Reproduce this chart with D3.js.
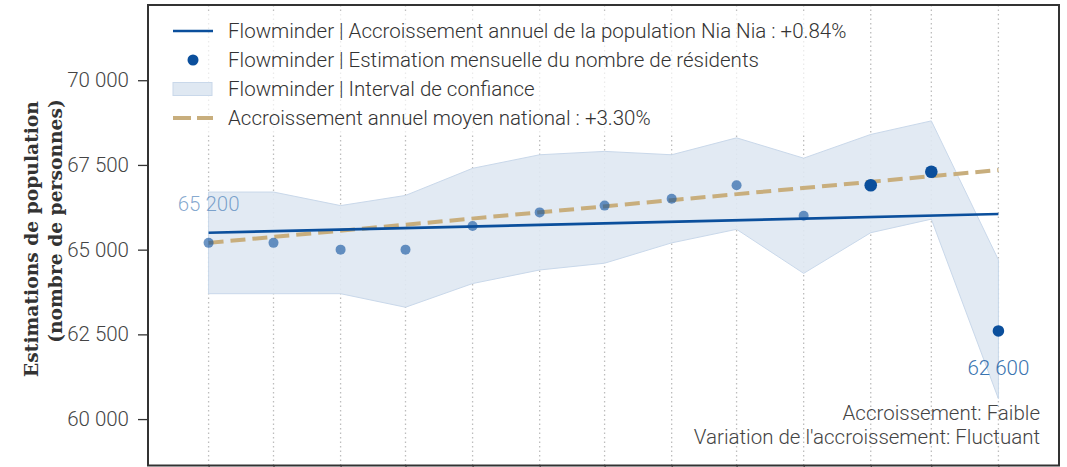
<!DOCTYPE html>
<html>
<head>
<meta charset="utf-8">
<script src="https://cdn.jsdelivr.net/npm/d3@7"></script>
<style>
  html, body { margin: 0; padding: 0; background: #fff; }
  svg { display: block; }
</style>
</head>
<body>
<svg id="chart" width="1067" height="467"></svg>
<script>
// Monthly resident estimates for Nia Nia (end of month)
const months = ["2022-03-31", "2022-04-30", "2022-05-31", "2022-06-30", "2022-07-31", "2022-08-31",
                "2022-09-30", "2022-10-31", "2022-11-30", "2022-12-31", "2023-01-31", "2023-02-28", "2023-03-31"];
const residents = [65200, 65200, 65000, 65000, 65700, 66100, 66300, 66500, 66900, 66000, 66900, 67300, 62600];
const ciLow  = [63700, 63700, 63700, 63300, 64000, 64400, 64600, 65200, 65600, 64300, 65500, 65900, 60600];
const ciHigh = [66700, 66700, 66300, 66600, 67400, 67800, 67900, 67800, 68300, 67700, 68400, 68800, 64700];
// Growth lines, first and last month
const localTrend = [65500, 66050];     // +0.84 % per year
const nationalTrend = [65200, 67350];  // +3.30 % per year
const yTicks = [60000, 62500, 65000, 67500, 70000];
const legendLabels = [
  "Flowminder | Accroissement annuel de la population Nia Nia : +0.84%",
  "Flowminder | Estimation mensuelle du nombre de résidents",
  "Flowminder | Interval de confiance",
  "Accroissement annuel moyen national : +3.30%"
];
const notes = ["Accroissement: Faible", "Variation de l'accroissement: Fluctuant"];
const yTitle = ["Estimations de population", "(nombre de personnes)"];

const parse = d3.utcParse("%Y-%m-%d");
const dates = months.map(parse);
const rows = dates.map((d, i) => ({ date: d, value: residents[i], lo: ciLow[i], hi: ciHigh[i], i }));

const svg = d3.select("#chart");
const frame = { left: 148, right: 1059, top: 5, bottom: 465.5 };

const blue = "#0b4f9c";
const tan = "#c8ae7d";
const font = "Roboto, 'Noto Sans', sans-serif";
const fs = 20.5;

const x = d3.scaleUtc()
  .domain([d3.utcDay.offset(dates[0], -28), d3.utcDay.offset(dates[dates.length - 1], 28)])
  .range([frame.left, frame.right]);
const y = d3.scaleLinear()
  .domain([58630, 72220])
  .range([frame.bottom, frame.top]);

const fr = d3.formatLocale({ decimal: ",", thousands: " ", grouping: [3], currency: ["", ""] });
const fmt = fr.format(",.0f");

// vertical dotted grid, one per month
svg.append("g").selectAll("line").data(dates).join("line")
  .attr("x1", d => x(d)).attr("x2", d => x(d))
  .attr("y1", frame.top).attr("y2", frame.bottom)
  .attr("stroke", "#bdbdbd").attr("stroke-width", 1.3)
  .attr("stroke-dasharray", "1.5 3");

// confidence band
svg.append("path").datum(rows)
  .attr("d", d3.area().x(d => x(d.date)).y0(d => y(d.lo)).y1(d => y(d.hi)))
  .attr("fill", "#dfe8f2").attr("fill-opacity", 0.9)
  .attr("stroke", "#c9d8ea").attr("stroke-width", 1);

// national average growth
const ends = [dates[0], dates[dates.length - 1]];
svg.append("path").datum(ends.map((d, i) => [d, nationalTrend[i]]))
  .attr("d", d3.line().x(d => x(d[0])).y(d => y(d[1])))
  .attr("fill", "none").attr("stroke", tan).attr("stroke-width", 4)
  .attr("stroke-dasharray", "15 7");

// local growth
svg.append("path").datum(ends.map((d, i) => [d, localTrend[i]]))
  .attr("d", d3.line().x(d => x(d[0])).y(d => y(d[1])))
  .attr("fill", "none").attr("stroke", blue).attr("stroke-width", 2.6);

// monthly estimates: last three months highlighted
const n = rows.length;
svg.append("g").selectAll("circle").data(rows).join("circle")
  .attr("cx", d => x(d.date)).attr("cy", d => y(d.value))
  .attr("r", d => d.i >= n - 3 ? (d.i === n - 1 ? 5.8 : 6.3) : 5)
  .attr("fill", blue)
  .attr("fill-opacity", d => d.i >= n - 3 ? 1 : 0.6);

// first / last value labels
svg.append("text")
  .attr("x", x(dates[0])).attr("y", y(residents[0]) - 32)
  .attr("text-anchor", "middle").attr("font-family", font).attr("font-weight", 300)
  .attr("font-size", fs).attr("fill", "#3f78b4").attr("fill-opacity", 0.65)
  .text(fmt(residents[0]));
svg.append("text")
  .attr("x", x(dates[n - 1])).attr("y", y(residents[n - 1]) + 44)
  .attr("text-anchor", "middle").attr("font-family", font).attr("font-weight", 300)
  .attr("font-size", fs).attr("fill", "#3a74b0")
  .text(fmt(residents[n - 1]));

// y axis
const yAxis = svg.append("g")
  .attr("transform", `translate(${frame.left},0)`)
  .call(d3.axisLeft(y).tickValues(yTicks).tickFormat(fmt).tickSize(10).tickPadding(9));
yAxis.select(".domain").remove();
yAxis.selectAll(".tick line").attr("stroke", "#333").attr("stroke-width", 1.3);
yAxis.selectAll(".tick text").attr("font-family", font).attr("font-weight", 300)
  .attr("font-size", fs).attr("fill", "#444");

// x axis ticks under the frame
const xAxis = svg.append("g")
  .attr("transform", `translate(0,${frame.bottom})`)
  .call(d3.axisBottom(x).tickValues(dates).tickFormat("").tickSize(6));
xAxis.select(".domain").remove();
xAxis.selectAll(".tick line").attr("stroke", "#333");

// frame
svg.append("rect")
  .attr("x", frame.left).attr("y", frame.top)
  .attr("width", frame.right - frame.left).attr("height", frame.bottom - frame.top)
  .attr("fill", "none").attr("stroke", "#333").attr("stroke-width", 2);

// y title
const titleG = svg.append("g").attr("font-family", "'DejaVu Serif', serif")
  .attr("font-weight", "bold").attr("font-size", 18.7).attr("fill", "#333")
  .attr("text-anchor", "middle");
[[38, 239], [62, 221]].forEach(([tx, ty], k) => {
  titleG.append("text")
    .attr("transform", `translate(${tx},${ty}) rotate(-90)`)
    .text(yTitle[k]);
});

// legend
const lg = svg.append("g").attr("font-family", font).attr("font-weight", 300)
  .attr("font-size", fs).attr("fill", "#333");
lg.append("rect").attr("x", 160).attr("y", 13).attr("width", 700).attr("height", 120)
  .attr("fill", "#fff").attr("fill-opacity", 0.7);
const rowY = [31, 60, 89, 118];
lg.append("line").attr("x1", 173).attr("x2", 213).attr("y1", rowY[0]).attr("y2", rowY[0])
  .attr("stroke", blue).attr("stroke-width", 2.6);
lg.append("circle").attr("cx", 193).attr("cy", rowY[1]).attr("r", 5.5).attr("fill", blue);
lg.append("rect").attr("x", 173).attr("y", rowY[2] - 6.5).attr("width", 39).attr("height", 13)
  .attr("fill", "#dfe8f2").attr("stroke", "#c9d8ea");
lg.append("line").attr("x1", 173).attr("x2", 213).attr("y1", rowY[3]).attr("y2", rowY[3])
  .attr("stroke", tan).attr("stroke-width", 4).attr("stroke-dasharray", "18 6");
legendLabels.forEach((t, k) => {
  lg.append("text").attr("x", 228).attr("y", rowY[k]).attr("dy", "0.35em").text(t);
});

// growth notes
const ng = svg.append("g").attr("font-family", font).attr("font-weight", 300)
  .attr("font-size", fs).attr("fill", "#444").attr("text-anchor", "end");
notes.forEach((t, k) => {
  ng.append("text").attr("x", 1040).attr("y", 420 + k * 24).text(t);
});
</script>
</body>
</html>
